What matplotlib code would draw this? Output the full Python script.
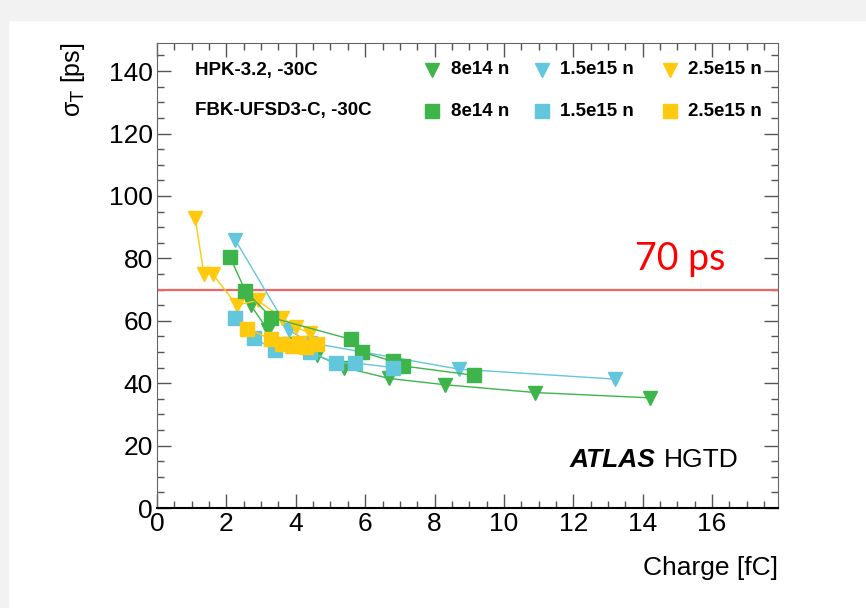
import matplotlib
matplotlib.use("Agg")
import matplotlib.pyplot as plt
from matplotlib.ticker import MultipleLocator
from matplotlib.patches import Rectangle

# ---- data (charge [fC], sigma_T [ps]) ----
hpk_8e14_q = [2.7, 3.2, 3.8, 4.6, 5.4, 6.7, 8.3, 10.9, 14.2]
hpk_8e14_s = [65, 57, 52.5, 49, 45, 41.5, 39.5, 37, 35.3]
hpk_15e15_q = [2.25, 3.8, 4.4, 8.7, 13.2]
hpk_15e15_s = [86, 57, 53, 44.5, 41.3]
hpk_25e15_q = [1.1, 1.35, 1.6, 2.3, 2.9, 3.6, 4.0, 4.4]
hpk_25e15_s = [93, 75, 75, 65, 66.5, 61, 58, 56]

fbk_8e14_q = [2.1, 2.55, 3.3, 5.6, 5.9, 6.8, 7.1, 9.15]
fbk_8e14_s = [80.5, 69.5, 61, 54, 50, 47, 45.5, 42.5]
fbk_15e15_q = [2.25, 2.8, 3.4, 4.4, 5.15, 5.7, 6.8]
fbk_15e15_s = [61, 54.5, 50.5, 50, 46.5, 46.5, 45]
fbk_25e15_q = [2.6, 3.3, 3.6, 3.9, 4.1, 4.3, 4.6]
fbk_25e15_s = [57.5, 54, 52.5, 52, 53, 51.5, 52.5]

threshold = 70
legend_labels = ["8e14 n", "1.5e15 n", "2.5e15 n"]

GREEN = "#3db54a"
CYAN = "#62c6dc"
YELLOW = "#ffc90e"

plt.rcParams['font.family'] = ['Liberation Sans', 'DejaVu Sans']

fig = plt.figure(figsize=(8.66, 6.08), dpi=100)
fig.patches.append(Rectangle((0, 1 - 20/608), 1, 20/608, transform=fig.transFigure,
                             color="#f2f2f2", zorder=0))
fig.patches.append(Rectangle((0, 0), 8/866, 1, transform=fig.transFigure,
                             color="#f2f2f2", zorder=0))
ax = fig.add_axes([157/866, 1 - 508/608, (778-157)/866, (508-43)/608])

ax.set_xlim(0, 17.9)
ax.set_ylim(0, 149)

lw = 1.0
ms_t = 10
ms_s = 10.5
ax.plot(hpk_8e14_q, hpk_8e14_s, '-v', color=GREEN, lw=lw, ms=ms_t, mec=GREEN, zorder=3)
ax.plot(hpk_15e15_q, hpk_15e15_s, '-v', color=CYAN, lw=lw, ms=ms_t, mec=CYAN, zorder=3)
ax.plot(hpk_25e15_q, hpk_25e15_s, '-v', color=YELLOW, lw=lw, ms=ms_t, mec=YELLOW, zorder=3)
ax.plot(fbk_8e14_q, fbk_8e14_s, '-s', color=GREEN, lw=lw, ms=ms_s, mec=GREEN, zorder=4)
ax.plot(fbk_15e15_q, fbk_15e15_s, '-s', color=CYAN, lw=lw, ms=ms_s, mec=CYAN, zorder=4)
ax.plot(fbk_25e15_q, fbk_25e15_s, '-s', color=YELLOW, lw=lw, ms=ms_s, mec=YELLOW, zorder=5)

ax.axhline(threshold, color="#f06464", lw=1.6, zorder=2)

# ticks ROOT-style
ax.xaxis.set_major_locator(MultipleLocator(2))
ax.xaxis.set_minor_locator(MultipleLocator(0.5))
ax.yaxis.set_major_locator(MultipleLocator(20))
ax.yaxis.set_minor_locator(MultipleLocator(5))
ax.tick_params(which='both', direction='in', top=True, right=True, color='#555555')
ax.tick_params(which='major', length=10, width=1, labelsize=19, pad=3)
ax.tick_params(which='minor', length=5, width=1)
for s in ['left', 'right', 'top']:
    ax.spines[s].set_color('#666666')
ax.spines['bottom'].set_linewidth(1.5)

ax.set_xlabel("Charge [fC]", fontsize=19, loc='right', labelpad=14)
ax.set_ylabel("σ$_{\\mathrm{T}}$ [ps]", fontsize=18, loc='top', labelpad=16)

# legend-like annotations
colors = [GREEN, CYAN, YELLOW]
marker_x = [432, 542, 670]
text_x = [451, 560, 688]
for row_y, marker, ms in [(70, 'v', ms_t), (111, 's', ms_s)]:
    for c, mx, tx, lab in zip(colors, marker_x, text_x, legend_labels):
        fig.lines.append(plt.Line2D([mx/866], [1 - row_y/608], marker=marker, color=c,
                                    ms=ms, ls='none', transform=fig.transFigure))
        fig.text(tx/866, 1 - row_y/608, lab, fontsize=13.5, fontweight='bold',
                 va='center', ha='left')
fig.text(195/866, 1 - 70/608, "HPK-3.2, -30C", fontsize=13.5, fontweight='bold',
         va='center', ha='left')
fig.text(195/866, 1 - 111/608, "FBK-UFSD3-C, -30C", fontsize=13.5, fontweight='bold',
         va='center', ha='left')

fig.text(635/866, 1 - 259/608, "70 ps", color='red', fontsize=27,
         family=['Lato', 'DejaVu Sans'], va='center', ha='left')
fig.text(570/866, 1 - 460/608, "ATLAS", fontsize=19, fontweight='bold', style='italic',
         va='center', ha='left')
fig.text(664/866, 1 - 460/608, "HGTD", fontsize=19, va='center', ha='left')

fig.savefig("out.png", dpi=100)
